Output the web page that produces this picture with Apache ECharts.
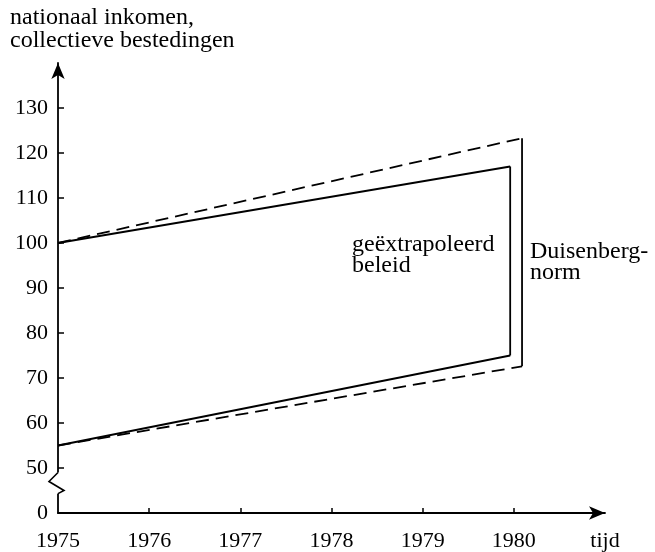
<!DOCTYPE html>
<html>
<head>
<meta charset="utf-8">
<script src="https://cdn.jsdelivr.net/npm/echarts@6/dist/echarts.min.js"></script>
<style>
  html, body { margin: 0; padding: 0; background: #fff; }
  #chart { width: 655px; height: 552px; }
</style>
</head>
<body>
<div id="chart"></div>
<script>
// broken y axis: the value 40 on the axis stands for 0
const yTicks = [40, 50, 60, 70, 80, 90, 100, 110, 120, 130];
const xTicks = [1976, 1977, 1978, 1979, 1980];
const xLabels = [1975, 1976, 1977, 1978, 1979, 1980, 1981];

// lines
const solidUpper = [[1975, 100], [1979.96, 117]];
const dashedUpper = [[1975, 100], [1980.09, 123.3]];
const solidLower = [[1975, 55], [1979.96, 75]];
const dashedLower = [[1975, 55], [1980.09, 72.6]];

const font = 'Liberation Serif';
const chart = echarts.init(document.getElementById('chart'));

function lineSeries(data, dashed) {
    return {
        type: 'line',
        data: data,
        symbol: 'none',
        silent: true,
        lineStyle: { color: '#000', width: 1.8, type: dashed ? [13, 7] : 'solid' }
    };
}

chart.setOption({
    animation: false,
    grid: { left: 58, right: 50, top: 63, bottom: 34 },
    xAxis: {
        type: 'value',
        min: 1975,
        max: 1981,
        interval: 1,
        splitLine: { show: false },
        axisLine: {
            lineStyle: { color: '#000', width: 1.8 },
            symbol: ['none', 'arrow'],
            symbolSize: [10, 16]
        },
        axisTick: { inside: true, length: 5, customValues: xTicks, lineStyle: { color: '#000', width: 1.5 } },
        axisLabel: {
            customValues: xLabels,
            margin: 17,
            color: '#000',
            fontFamily: font,
            fontSize: 22,
            formatter: v => v === 1981 ? 'tijd' : String(v)
        }
    },
    yAxis: {
        type: 'value',
        min: 40,
        max: 140,
        interval: 10,
        splitLine: { show: false },
        axisLine: {
            lineStyle: { color: '#000', width: 1.8 },
            symbol: ['none', 'arrow'],
            symbolSize: [10, 16]
        },
        axisTick: { inside: true, length: 6, customValues: yTicks.slice(1), lineStyle: { color: '#000', width: 1.5 } },
        axisLabel: {
            customValues: yTicks,
            margin: 10,
            color: '#000',
            fontFamily: font,
            fontSize: 22,
            formatter: v => v === 40 ? '0' : String(v)
        }
    },
    series: [
        lineSeries(solidUpper, false),
        lineSeries(dashedUpper, true),
        lineSeries(solidLower, false),
        lineSeries(dashedLower, true),
        // brackets joining the line ends
        lineSeries([solidUpper[1], solidLower[1]], false),
        lineSeries([dashedUpper[1], dashedLower[1]], false)
    ]
});

// axis break (zigzag) and texts
const breakTop = chart.convertToPixel({ gridIndex: 0 }, [1975, 49]);
const breakBot = chart.convertToPixel({ gridIndex: 0 }, [1975, 44.3]);
const ax = breakTop[0];
chart.setOption({
    graphic: [
        {
            type: 'rect',
            shape: { x: ax - 3, y: breakTop[1], width: 6, height: breakBot[1] - breakTop[1] },
            style: { fill: '#fff' },
            z: 100
        },
        {
            type: 'polyline',
            shape: { points: [[ax, breakTop[1]], [ax - 9, breakTop[1] + 9], [ax + 6, breakTop[1] + 18], [ax, breakBot[1]]] },
            style: { stroke: '#000', lineWidth: 1.6, fill: null },
            z: 101
        },
        {
            type: 'text', left: 10, top: 6,
            style: { text: 'nationaal inkomen,\ncollectieve bestedingen', font: '24px ' + font, fill: '#000', lineHeight: 23 }
        },
        {
            type: 'text', left: 352, top: 233,
            style: { text: 'geëxtrapoleerd\nbeleid', font: '24px ' + font, fill: '#000', lineHeight: 21 }
        },
        {
            type: 'text', left: 530, top: 240,
            style: { text: 'Duisenberg-\nnorm', font: '24px ' + font, fill: '#000', lineHeight: 21 }
        }
    ]
});
</script>
</body>
</html>
